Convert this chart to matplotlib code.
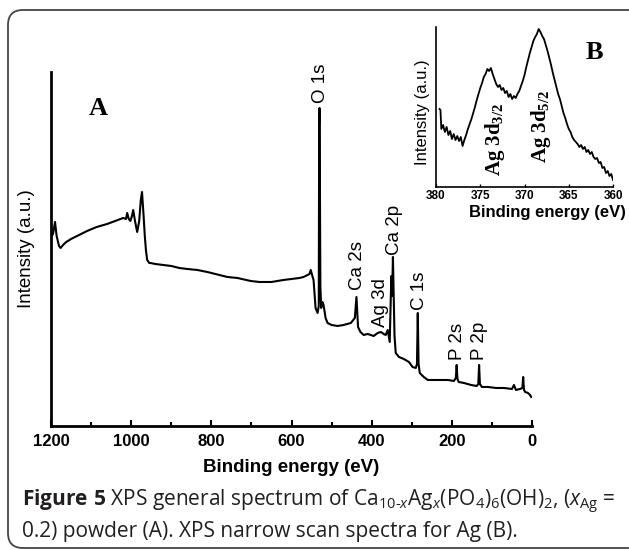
import matplotlib
matplotlib.use('Agg')
import matplotlib.pyplot as plt
from matplotlib.patches import FancyBboxPatch

plt.rcParams['font.family'] = 'Liberation Sans'
plt.rcParams['mathtext.fontset'] = 'custom'
plt.rcParams['mathtext.rm'] = 'Open Sans'
plt.rcParams['mathtext.it'] = 'Open Sans:italic'
plt.rcParams['mathtext.bf'] = 'Open Sans:bold'

# survey spectrum (A)
energy_a = [1200, 1195, 1190, 1186, 1180, 1176, 1170, 1162, 1150, 1130, 1110, 1086,
            1060, 1040, 1020, 1013, 1010, 1006, 1002, 998, 995, 990, 985, 980, 976,
            973, 969, 966, 963, 960, 955, 952, 940, 920, 900, 880, 860, 835, 810, 790,
            760, 735, 702, 680, 650, 620, 600, 580, 570, 560, 555, 552, 548, 545, 540,
            535, 532, 531, 530, 528, 526, 523, 520, 515, 510, 500, 485, 470, 452, 442,
            438, 434, 428, 420, 410, 395, 385, 377, 370, 365, 360, 355, 351, 349, 347,
            343, 340, 332, 320, 307, 298, 290, 287, 285, 283, 280, 270, 260, 240, 210,
            195, 190, 188, 186, 183, 170, 152, 138, 134, 132, 130, 125, 110, 90, 70,
            50, 45, 42, 40, 30, 24, 22, 20, 17, 10, 5, 2]
counts_a = [189, 192, 204, 190, 180, 178, 181, 184, 187, 191, 195, 199,
            202, 205, 208, 207, 213, 207, 205, 210, 216, 204, 194, 205, 226,
            234, 210, 190, 175, 166, 163, 163, 162, 161, 160, 158, 157, 156, 154, 152,
            149, 148, 145, 144, 144, 146, 147, 148, 149, 151, 152, 156, 150, 146, 118,
            113, 120, 300, 318, 140, 118, 124, 121, 108, 103, 101, 100, 101, 103, 108,
            129, 99, 94, 91, 92, 90, 93, 94, 92, 91, 96, 84, 150, 130, 169,
            90, 73, 69, 67, 64, 59, 58, 62, 113, 62, 53, 49, 46, 46, 46,
            45, 48, 61, 47, 44, 43, 41, 40, 42, 61, 42, 39, 39, 38, 38,
            37, 41, 38, 36, 37, 38, 49, 36, 34, 33, 31, 29]

peak_labels = ['O 1s', 'Ca 2s', 'Ag 3d', 'Ca 2p', 'C 1s', 'P 2s', 'P 2p']
peak_pos = [527, 435, 377.5, 342, 280, 187, 132]
peak_top = [323, 136, 99, 171, 116, 66, 66]

# narrow scan Ag 3d (B)
energy_b = [379.6, 379.5, 379.4, 379.2, 379.0, 378.8, 378.6, 378.4, 378.2, 378.0,
            377.8, 377.6, 377.4, 377.2, 377.0, 376.8, 376.6, 376.4, 376.2, 376.0,
            375.8, 375.6, 375.4, 375.2, 375.0, 374.8, 374.6, 374.4, 374.2, 374.0,
            373.8, 373.6, 373.4, 373.2, 373.0, 372.8, 372.6, 372.4, 372.2, 372.0,
            371.8, 371.6, 371.4, 371.2, 371.0, 370.8, 370.6, 370.4, 370.2, 370.0,
            369.8, 369.6, 369.4, 369.2, 369.0, 368.8, 368.6, 368.4, 368.2, 368.0,
            367.8, 367.6, 367.4, 367.2, 367.0, 366.8, 366.6, 366.4, 366.2, 366.0,
            365.8, 365.6, 365.4, 365.2, 365.0, 364.8, 364.6, 364.4, 364.2, 364.0,
            363.8, 363.6, 363.4, 363.2, 363.0, 362.8, 362.6, 362.4, 362.2, 362.0,
            361.8, 361.6, 361.4, 361.2, 361.0, 360.8, 360.6, 360.4, 360.2, 360.0]
counts_b = [78, 77, 58, 62, 55, 60, 52, 56, 48, 53,
            47, 51, 46, 50, 41, 47, 52, 58, 63, 68,
            74, 80, 87, 93, 99, 104, 110, 113, 118, 116,
            119, 113, 108, 103, 100, 102, 97, 99, 94, 96,
            90, 93, 88, 91, 89, 93, 96, 101, 106, 112,
            120, 127, 134, 140, 146, 150, 153, 158, 155, 151,
            148, 142, 136, 129, 122, 114, 107, 100, 93, 88,
            81, 74, 69, 63, 58, 55, 50, 47, 45, 43,
            40, 42, 38, 40, 35, 37, 33, 35, 30, 28,
            29, 24, 25, 19, 20, 14, 16, 11, 13, 7]

fig = plt.figure(figsize=(6.29, 5.5), dpi=100)

# rounded frame round the figure
frame = FancyBboxPatch((0.08, 0.02), 6.45, 5.38, boxstyle='round,pad=0,rounding_size=0.15',
                       transform=fig.dpi_scale_trans, facecolor='none',
                       edgecolor='#444444', linewidth=1.3)
fig.patches.append(frame)

# main panel
ax = fig.add_axes([0.0811, 0.2255, 0.7647, 0.6436])
ax.plot(energy_a, counts_a, color='black', linewidth=1.5)
ax.set_xlim(1200, 0)
ax.set_ylim(0, 354)
ax.set_xticks([1200, 1000, 800, 600, 400, 200, 0])
ax.set_xticks([1100, 900, 700, 500, 300, 100], minor=True)
ax.set_yticks([])
for s in ['top', 'right']:
    ax.spines[s].set_visible(False)
for s in ['left', 'bottom']:
    ax.spines[s].set_linewidth(2)
ax.tick_params(axis='x', which='major', direction='in', length=4, width=1.5, pad=6)
ax.tick_params(axis='x', which='minor', direction='in', length=3, width=1.5)
for lab in ax.get_xticklabels():
    lab.set_fontsize(12)
    lab.set_fontweight('bold')
ax.set_xlabel('Binding energy (eV)', fontsize=13.5, fontweight='bold')
ax.xaxis.set_label_coords(0.5, -0.094)
ax.xaxis.label.set_va('top')
ax.set_ylabel('Intensity (a.u.)', fontsize=13.5)
ax.yaxis.set_label_coords(-0.033, 0.5)

for lab, x, y in zip(peak_labels, peak_pos, peak_top):
    ax.text(x, y, lab, rotation=90, ha='center', va='bottom', fontsize=13.5)

ax.text(1082, 317, 'A', family='Liberation Serif', fontweight='bold', fontsize=19,
        ha='center', va='center')

# inset panel
ins = fig.add_axes([0.6932, 0.66, 0.2814, 0.2909])
ins.plot(energy_b, counts_b, color='black', linewidth=1.3)
ins.set_xlim(380, 360)
ins.set_ylim(0, 160)
ins.set_xticks([380, 375, 370, 365, 360])
ins.set_yticks([])
for s in ['top', 'right']:
    ins.spines[s].set_visible(False)
for s in ['left', 'bottom']:
    ins.spines[s].set_linewidth(1.2)
ins.tick_params(axis='x', direction='in', length=2, width=1, pad=2)
for lab in ins.get_xticklabels():
    lab.set_fontsize(8.5)
    lab.set_fontweight('bold')
ins.set_xlabel('Binding energy (eV)', fontsize=12, fontweight='bold')
ins.xaxis.set_label_coords(0.63, -0.11)
ins.xaxis.label.set_va('top')
ins.set_ylabel('Intensity (a.u.)', fontsize=12)
ins.yaxis.set_label_coords(-0.035, 0.47)

ins.text(373.3, 48, r'Ag 3d$_{\mathregular{3/2}}$', rotation=90, family='Liberation Serif',
         fontweight='bold', fontsize=15, ha='center', va='center')
ins.text(368.1, 61, r'Ag 3d$_{\mathregular{5/2}}$', rotation=90, family='Liberation Serif',
         fontweight='bold', fontsize=15, ha='center', va='center')
ins.text(362.1, 135, 'B', family='Liberation Serif', fontweight='bold', fontsize=19,
         ha='center', va='center')

# caption
cap1 = (r'$\mathbf{Figure\ 5}$ XPS general spectrum of Ca$_{\mathregular{10' + '\u2010' + r'}\mathit{x}}$'
        r'Ag$_{\mathit{x}}$(PO$_{\mathregular{4}}$)$_{\mathregular{6}}$(OH)$_{\mathregular{2}}$, '
        r'($\mathit{x}_{\mathregular{Ag}}$ =')
cap2 = '0.2) powder (A). XPS narrow scan spectra for Ag (B).'
fig.text(22 / 629, 1 - 502 / 550, cap1, family='Open Sans', fontsize=15, color='#231f20',
         ha='left', va='center')
fig.text(22 / 629, 1 - 531 / 550, cap2, family='Open Sans', fontsize=15, color='#231f20',
         ha='left', va='center')

fig.savefig('out.png', dpi=100)
